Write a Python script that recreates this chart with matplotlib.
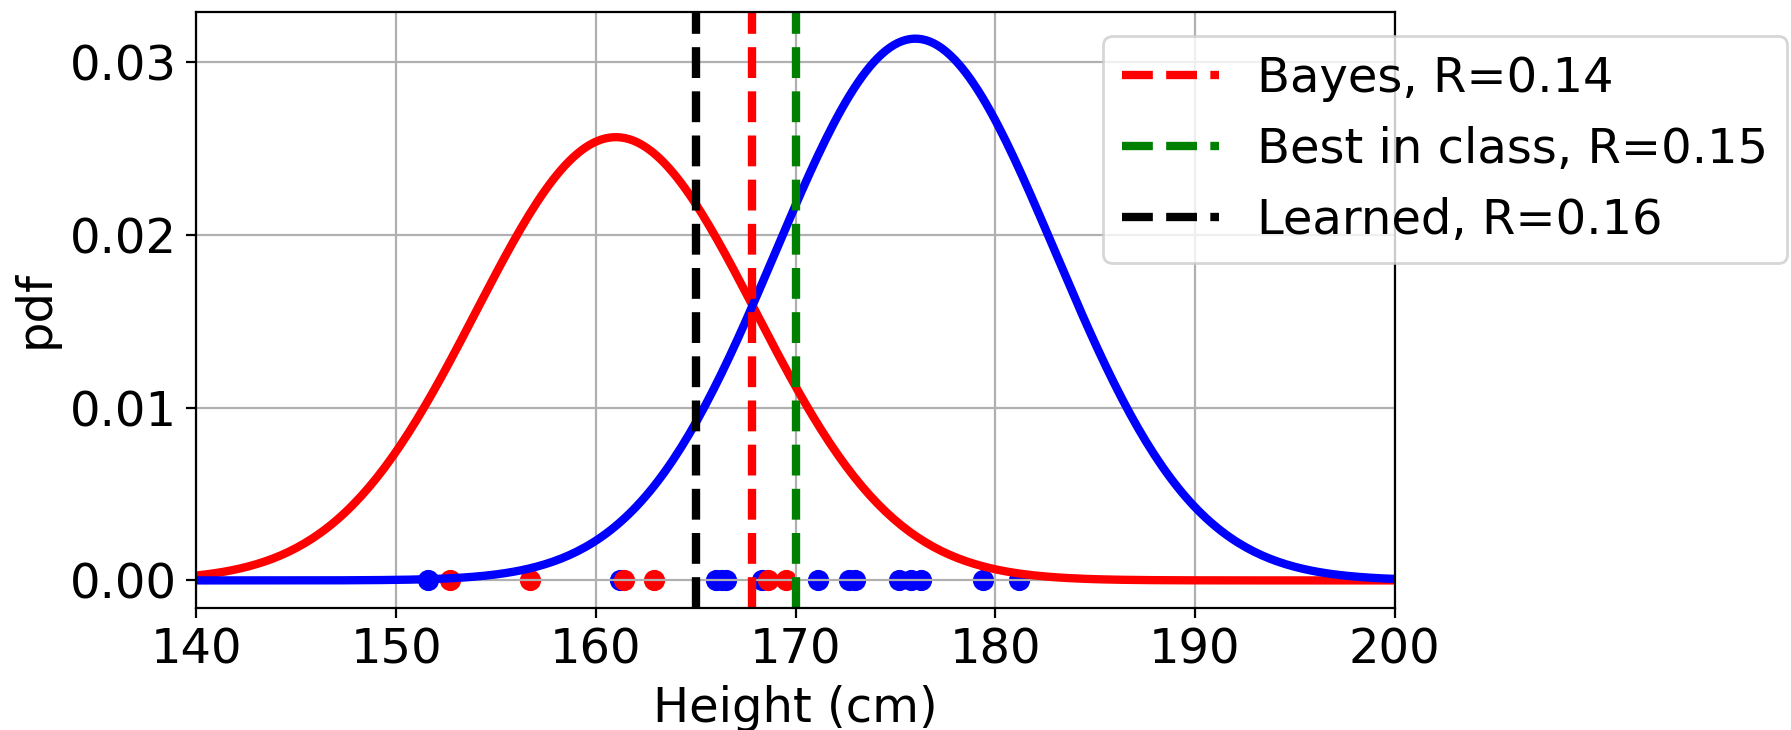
import numpy as np
import matplotlib
matplotlib.use("Agg")
import matplotlib.pyplot as plt

# Class-conditional densities (weighted Gaussians)
class_colors = ["red", "blue"]
class_means = [161.0, 176.0]
class_stds = [7.0, 7.0]
class_priors = [0.45, 0.55]

# Sample points shown on the x axis
red_points = [152.7, 156.7, 161.4, 162.9, 168.6, 169.5]
blue_points = [151.6, 161.2, 166.0, 166.3, 166.5, 168.3, 171.1, 172.7, 173.0,
               175.2, 175.8, 176.3, 179.4, 181.2]

# Thresholds
threshold_labels = ["Bayes, R=0.14", "Best in class, R=0.15", "Learned, R=0.16"]
threshold_values = [167.8, 170.0, 165.0]
threshold_colors = ["red", "green", "black"]

xticks = [140, 150, 160, 170, 180, 190, 200]
yticks = [0.00, 0.01, 0.02, 0.03]

plt.rcParams['font.size'] = 17.3
fig = plt.figure(figsize=(1791 / 200, 730 / 200), dpi=200)
ax = fig.add_axes([0.1097, 0.1678, 0.7787 - 0.1097, 0.9841 - 0.1678])

x = np.linspace(140, 200, 300)
ax.scatter(blue_points, np.zeros(len(blue_points)), color="blue", s=44)
ax.scatter(red_points, np.zeros(len(red_points)), color="red", s=44)
for c, m, s, p in zip(class_colors, class_means, class_stds, class_priors):
    y = p * np.exp(-0.5 * ((x - m) / s) ** 2) / (s * np.sqrt(2 * np.pi))
    ax.plot(x, y, color=c, lw=3)

for lab, v, c in zip(threshold_labels, threshold_values, threshold_colors):
    ax.axvline(v, color=c, ls="--", lw=3, label=lab)

ax.set_xlim(140, 200)
ax.set_xticks(xticks)
ax.set_yticks(yticks)
ax.set_yticklabels([f"{t:.2f}" for t in yticks])
ax.grid(True)
ax.set_xlabel("Height (cm)")
ax.set_ylabel("pdf")
ax.legend(loc="upper left", bbox_to_anchor=(0.6160, 0.9511),
          bbox_transform=fig.transFigure, borderaxespad=0)

fig.savefig("out.png", dpi=200)
